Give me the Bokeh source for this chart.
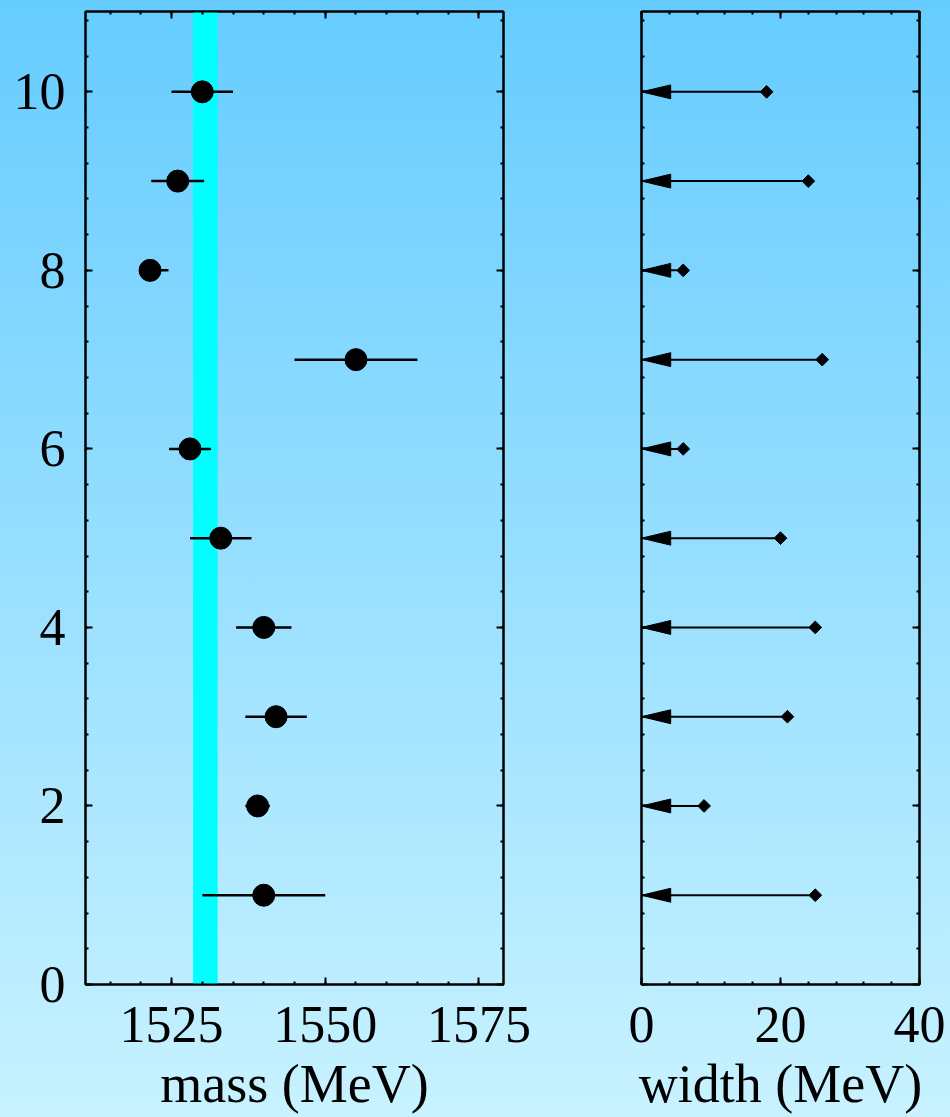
import numpy as np
from bokeh.plotting import figure
from bokeh.models import Range1d, LinearAxis, SingleIntervalTicker, BoxAnnotation, ColumnDataSource
from bokeh.layouts import row
from bokeh.embed import file_html
from bokeh.resources import INLINE

# ---- data ----
measurement = [1, 2, 3, 4, 5, 6, 7, 8, 9, 10]
mass = [1540.0, 1539.0, 1542.0, 1540.0, 1533.0, 1528.0, 1555.0, 1521.5, 1526.0, 1530.0]
mass_err_lo = [10.0, 2.0, 5.0, 4.5, 5.0, 3.4, 10.0, 1.7, 4.3, 5.0]
mass_err_hi = [10.0, 2.0, 5.0, 4.5, 5.0, 3.4, 10.0, 3.0, 4.3, 5.0]
width_limit = [25.0, 9.0, 21.0, 25.0, 20.0, 6.0, 26.0, 6.0, 24.0, 18.0]
band_lo, band_hi = 1528.5, 1532.5
mass_range = (1511, 1579)
width_range = (0, 40)
y_range = (0, 10.9)

FONT = "Liberation Serif"
GRAD = "linear-gradient(180deg, #66ccff 0%, #c8f2ff 100%)"
H = 1117
FRAME_TOP, FRAME_BOTTOM = 11, 984


def add_axis(p, loc, interval, labelled, axis_label=None):
    ax = LinearAxis(ticker=SingleIntervalTicker(interval=interval, num_minor_ticks=5))
    ax.major_tick_in = 7
    ax.major_tick_out = 0
    ax.minor_tick_in = 3
    ax.minor_tick_out = 0
    ax.axis_line_width = 2
    ax.major_tick_line_width = 2
    ax.minor_tick_line_width = 2
    if labelled:
        ax.major_label_text_font = FONT
        ax.major_label_text_font_size = "52px"
        ax.major_label_text_color = "black"
        ax.major_label_standoff = 22 if loc == "below" else 20
    else:
        ax.major_label_text_font_size = "0px"
        ax.major_label_text_color = None
        ax.major_label_standoff = 0
    if axis_label:
        ax.axis_label = axis_label
        ax.axis_label_text_font = FONT
        ax.axis_label_text_font_size = "54px"
        ax.axis_label_text_font_style = "normal"
        ax.axis_label_text_color = "black"
        ax.axis_label_standoff = 9
    p.add_layout(ax, loc)
    return ax


def make_fig(xr, width, mb_left, mb_right):
    p = figure(width=width, height=H, x_range=Range1d(*xr), y_range=Range1d(*y_range),
               output_backend="svg", toolbar_location=None,
               x_axis_location=None, y_axis_location=None,
               min_border_left=mb_left, min_border_right=mb_right,
               min_border_top=FRAME_TOP, min_border_bottom=H - FRAME_BOTTOM)
    p.grid.visible = False
    p.background_fill_alpha = 0
    p.border_fill_alpha = 0
    p.outline_line_color = "black"
    p.outline_line_width = 2
    p.styles = {"background": GRAD}
    return p


# ---- left panel: mass ----
p1 = make_fig(mass_range, 560, 85, 57)
add_axis(p1, "below", 25, True, "mass (MeV)")
add_axis(p1, "left", 2, True)
add_axis(p1, "above", 25, False)
add_axis(p1, "right", 2, False)

band = BoxAnnotation(left=band_lo, right=band_hi, fill_color="#00ffff", fill_alpha=1.0,
                     line_alpha=0, level="underlay")
p1.add_layout(band)

src1 = ColumnDataSource(dict(
    y=measurement, m=mass,
    lo=[m - e for m, e in zip(mass, mass_err_lo)],
    hi=[m + e for m, e in zip(mass, mass_err_hi)],
))
p1.segment(x0="lo", x1="hi", y0="y", y1="y", source=src1, line_color="black", line_width=2.5)
p1.scatter(x="m", y="y", source=src1, size=22, marker="circle", fill_color="black", line_color="black")

# ---- right panel: width upper limits ----
p2 = make_fig(width_range, 390, 81, 31)
add_axis(p2, "below", 20, True, "width (MeV)")
add_axis(p2, "left", 2, False)
add_axis(p2, "above", 20, False)
add_axis(p2, "right", 2, False)

head_len = 4.2     # arrow head length in MeV (style)
head_half = 0.078  # arrow head half height (style)
src2 = ColumnDataSource(dict(y=measurement, w=width_limit, zero=[0.0] * len(width_limit)))
p2.segment(x0="zero", x1="w", y0="y", y1="y", source=src2, line_color="black", line_width=2)
p2.patches(xs=[[0.0, head_len, head_len] for _ in measurement],
           ys=[[y, y + head_half, y - head_half] for y in measurement],
           fill_color="black", line_color="black", line_width=1)
p2.scatter(x="w", y="y", source=src2, marker="square", angle=np.pi / 4, size=9,
           fill_color="black", line_color="black")

layout = row(p1, p2, styles={"background": GRAD})

html = file_html(layout, INLINE)
html = html.replace("</head>",
                    "<style>html,body{margin:0;padding:0;background:" + GRAD +
                    ";min-height:1117px;}</style></head>", 1)
open("out.html", "w").write(html)
